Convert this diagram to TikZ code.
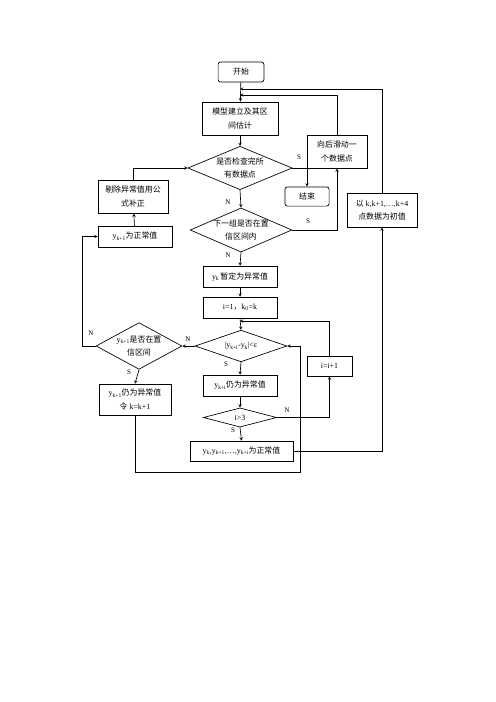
\documentclass[tikz,border=0pt]{standalone}
\usepackage{fontspec}
\setmainfont{Liberation Serif}
\newfontfamily\cjk{Noto Sans CJK SC}
\newcommand{\zhs}[1]{{\cjk #1}}
\usetikzlibrary{calc, shapes.geometric, positioning}

\tikzset{
    txt/.style={align=center, font=\fontsize{9.5}{16}\selectfont},
    box/.style={txt, draw, rectangle, inner sep=1pt},
    term/.style={box, rounded corners=3pt},
    dia/.style={draw, diamond, inner sep=0pt},
    tag/.style={font=\fontsize{8.5}{9}\selectfont, inner sep=1pt},
}

\begin{document}
\begin{tikzpicture}[>=stealth, x=1.2pt, y=-1.2pt, line width=0.8pt]

    \useasboundingbox (0,0) rectangle (496,702);

    % =================================================================
    % 1. TRUNK: START, MODEL, CHECKS
    % =================================================================
    \node[term, minimum width=55pt, minimum height=24pt] (start) at (241,72) {\zhs{开始}};
    \node[box, minimum width=91pt, minimum height=40pt] (model) at (240,118.5) {\zhs{模型建立及其区}\\\zhs{间估计}};
    \node[dia, minimum width=125pt, minimum height=52pt,
          label={[txt]center:\zhs{是否检查完所}\\\zhs{有数据点}}] (chk) at (240,168) {};
    \node[term, minimum width=53pt, minimum height=23pt] (end) at (307,196.5) {\zhs{结束}};
    \node[box, minimum width=72pt, minimum height=40pt] (slide) at (337,151.5) {\zhs{向后滑动一}\\\zhs{个数据点}};
    \node[box, minimum width=84pt, minimum height=41pt] (init) at (382,210) {\zhs{以} k,k+1,…,k+4\\\zhs{点数据为初值}};
    \node[dia, minimum width=122pt, minimum height=53pt,
          label={[txt]center:\zhs{下一组是否在置}\\\zhs{信区间内}}] (conf) at (241,230) {};

    % =================================================================
    % 2. INNER TEST
    % =================================================================
    \node[box, minimum width=89pt, minimum height=25pt] (abn) at (240,276.5) {y\textsubscript{k}\,\zhs{暂定为异常值}};
    \node[box, minimum width=89pt, minimum height=25pt] (iset) at (240,307.5) {i=1\zhs{，}k\textsubscript{0}=k};
    \node[dia, minimum width=110pt, minimum height=38pt,
          label={[txt]center:|y\textsubscript{k+i}-y\textsubscript{k}|<ε}] (cmp) at (241,346) {};
    \node[box, minimum width=89pt, minimum height=25pt] (still) at (240,385.5) {y\textsubscript{k+i}\zhs{仍为异常值}};
    \node[dia, minimum width=88pt, minimum height=23pt,
          label={[txt]center:i>3}] (ichk) at (240,417.5) {};
    \node[box, minimum width=124pt, minimum height=24pt] (norm) at (241.5,451) {y\textsubscript{k},y\textsubscript{k+1},…,y\textsubscript{k+i}\zhs{为正常值}};
    \node[box, minimum width=54pt, minimum height=24pt] (inc) at (329.5,366) {i=i+1};

    % =================================================================
    % 3. LEFT BRANCH
    % =================================================================
    \node[dia, minimum width=103pt, minimum height=56pt,
          label={[txt]center:y\textsubscript{k+1}\zhs{是否在置}\\\zhs{信区间}}] (conf2) at (139,346) {};
    \node[box, minimum width=86pt, minimum height=37pt] (mark) at (135,399.5) {y\textsubscript{k+1}\zhs{仍为异常值}\\\zhs{令} k=k+1};
    \node[box, minimum width=89pt, minimum height=25pt] (ok) at (135,236.5) {y\textsubscript{k+1}\zhs{为正常值}};
    \node[box, minimum width=84pt, minimum height=40pt] (fix) at (133,196.5) {\zhs{剔除异常值用公}\\\zhs{式补正}};

    % =================================================================
    % 4. CONNECTORS
    % =================================================================
    \coordinate (j1) at (240,89);
    \coordinate (j2) at (240,95);
    \coordinate (j3) at (240,321);
    \coordinate (c1) at (300,472);

    \draw[->] (start) -- (model);
    \draw[->] (init.north) |- (j1);
    \draw[->] (slide.north) |- (j2);
    \draw[->] (model) -- (chk);
    \draw[->] (chk.east) -| (end.north);
    \draw[->] (chk.south) -- (conf.north);
    \draw[->] (fix.north) |- (chk.west);
    \draw[->] (ok) -- (fix);
    \draw[->] (conf.east) -| (slide.south);
    \draw[->] (conf.south) -- (abn.north);
    \draw[->] (abn) -- (iset);
    \draw[->] (iset.south) -- (cmp.north);
    \draw[->] (inc.north) |- (j3);
    \draw[->] (cmp.south) -- (still.north);
    \draw[->] (cmp.west) -- (conf2.east);
    \draw[->] (still) -- (ichk.north);
    \draw[->] (ichk.east) -| (inc.south);
    \draw[->] (ichk.south) -- (norm.north);
    \draw[->] (norm.east) -| (init.south);
    \draw[->] (conf2.south) -- (mark.north);
    \draw[->] (conf2.west) -- ++(-13,0) |- (ok.west);
    \draw[->] (mark.south) |- (c1) |- (cmp.east);

    % =================================================================
    % 5. BRANCH LABELS
    % =================================================================
    \node[tag] (sA) at (299,157) {S};
    \node[tag] (nA) at (228,202) {N};
    \node[tag] (sB) at (308,221) {S};
    \node[tag] (nB) at (228,255) {N};
    \node[tag] (nC) at (188,339) {N};
    \node[tag] (sC) at (226,364) {S};
    \node[tag] (nD) at (287,410) {N};
    \node[tag] (sD) at (233,430) {S};
    \node[tag] (nE) at (91,333) {N};
    \node[tag] (sE) at (129,372) {S};

\end{tikzpicture}
\end{document}
